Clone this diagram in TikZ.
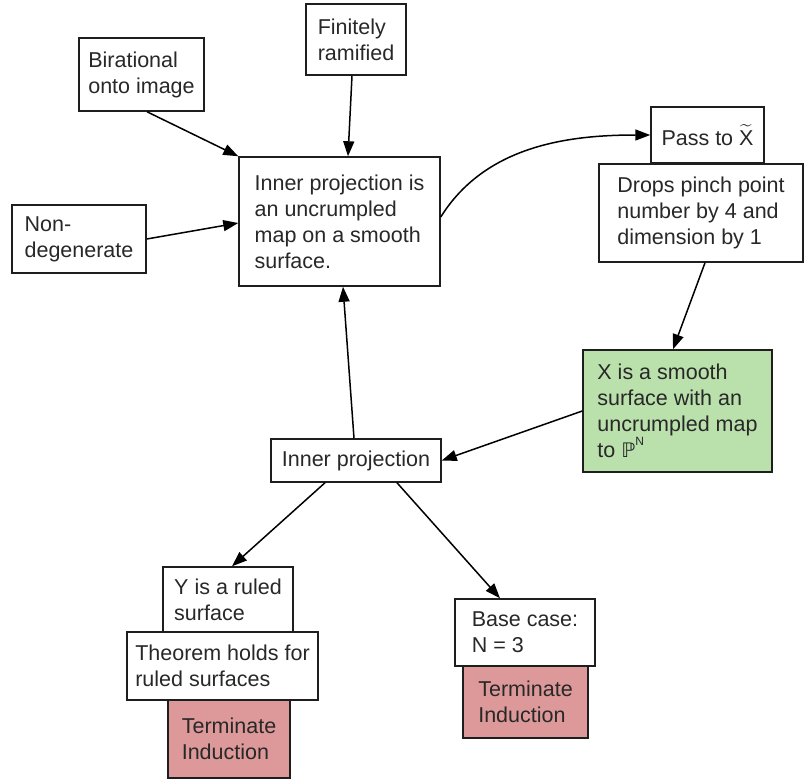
\documentclass[tikz,border=0pt]{standalone}
\usepackage{amsmath}
\usepackage{fontspec}
\setmainfont{Liberation Sans}
\newfontfamily\dejavu{DejaVu Sans}
\usetikzlibrary{arrows.meta}
\definecolor{boxgreen}{RGB}{186,224,172}
\definecolor{boxred}{RGB}{221,153,153}
\definecolor{edge}{RGB}{30,30,30}
\definecolor{txt}{RGB}{40,40,40}
\tikzset{
  box/.style={draw=edge, line width=1.5pt, fill=white, align=left, inner sep=0pt,
    text=txt, font=\fontsize{21.5}{26}\selectfont},
  arr/.style={draw=black, line width=1.5pt, -{Triangle[length=15pt,width=11pt]}},
}
\begin{document}
\begin{tikzpicture}[x=1pt,y=-1pt]
\useasboundingbox (0,0) rectangle (805,780);
% top-left inputs
\node[box, minimum width=100pt, minimum height=71pt] (fin) at (356,39.5) {Finitely\\ramified};
\node[box, minimum width=125pt, minimum height=73pt] (bir) at (141.5,74.5) {Birational\\onto image};
\node[box, minimum width=134pt, minimum height=68pt] (non) at (79,239) {Non-\\degenerate};
\node[box, minimum width=201pt, minimum height=129pt] (main) at (339.5,221.5) {Inner projection is\\an uncrumpled\\map on a smooth\\surface.};
% right column
\node[box, minimum width=113pt, minimum height=56pt] (pass) at (707.5,135) {Pass to $\widetilde{\text{X}}$};
\node[box, minimum width=204pt, minimum height=98pt] (drops) at (701,213) {Drops pinch point\\number by 4 and\\dimension by 1};
\node[box, fill=boxgreen, minimum width=189pt, minimum height=122pt] (green) at (677.5,411) {X is a smooth\\surface with an\\uncrumpled map\\to {\dejavu\fontsize{20}{26}\selectfont ℙ}\raisebox{0.55em}{\fontsize{12}{12}\selectfont N}};
% middle
\node[box, minimum width=170pt, minimum height=43pt] (inner) at (356,460.5) {Inner projection};
% bottom left stack
\node[box, minimum width=130pt, minimum height=65pt] (ruled) at (228,599.5) {Y is a ruled\\surface};
\node[box, minimum width=191pt, minimum height=68pt] (thm) at (222.5,666) {Theorem holds for\\ruled surfaces};
\node[box, fill=boxred, minimum width=122pt, minimum height=78pt] (term1) at (229,739) {Terminate\\Induction};
% bottom right stack
\node[box, minimum width=140pt, minimum height=67pt] (base) at (525,632.5) {Base case:\\N = 3};
\node[box, fill=boxred, minimum width=125pt, minimum height=72pt] (term2) at (525.5,702) {Terminate\\Induction};
% connectors
\draw[arr] ([xshift=5.5pt]bir.south) -- (main.north west);
\draw[arr] (non.east) -- ([yshift=-1.5pt]main.west);
\draw[arr] ([xshift=-4pt]fin.south) -- ([xshift=8.5pt]main.north);
\draw[arr] ([yshift=4.5pt]main.east) to[out=58, in=180, looseness=0.95] (pass.west);
\draw[arr] ([xshift=4pt]drops.south) -- ([xshift=-4.5pt]green.north);
\draw[arr] (green.west) -- (inner.east);
\draw[arr] ([xshift=-2pt]inner.north) -- ([xshift=3.5pt]main.south);
\draw[arr] ([xshift=-31pt]inner.south) -- ([xshift=4pt]ruled.north);
\draw[arr] ([xshift=41pt]inner.south) -- ([xshift=-25pt]base.north);
\end{tikzpicture}
\end{document}
